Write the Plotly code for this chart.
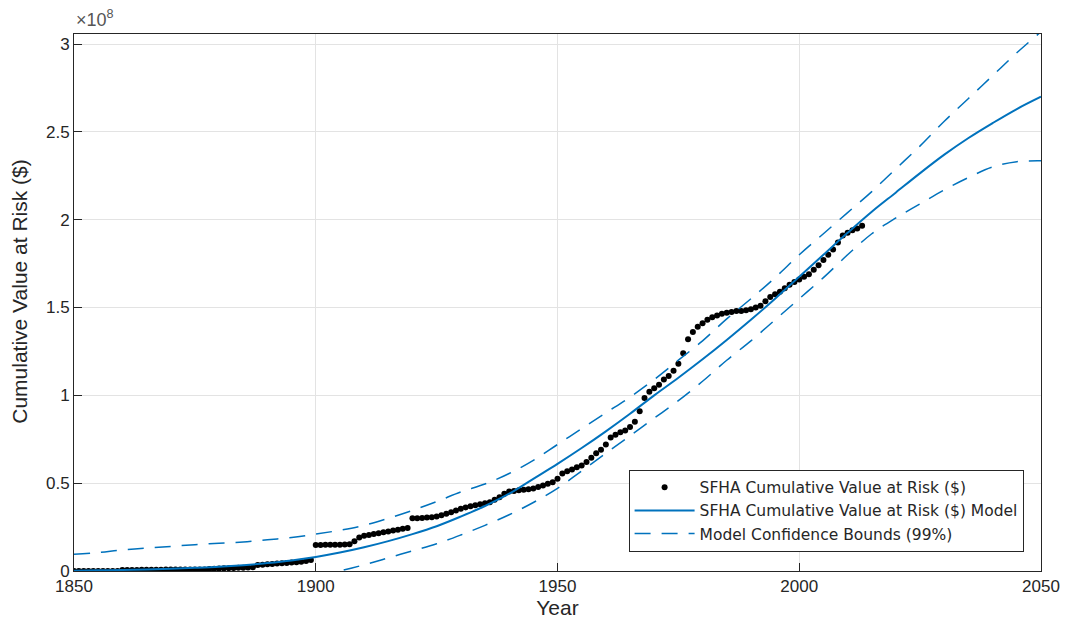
import plotly.graph_objects as go

# Units: 1e8 dollars
SCALE = 1e8

# Observed cumulative value at risk, one value per year from 1850
obs_start_year = 1850
obs_values = [
    0.000, 0.000, 0.000, 0.000, 0.000, 0.000, 0.000, 0.000, 0.000, 0.000,
    0.006, 0.006, 0.006, 0.006, 0.007, 0.007, 0.007, 0.007, 0.007, 0.008,
    0.008, 0.008, 0.008, 0.008, 0.009, 0.009, 0.009, 0.009, 0.012, 0.013,
    0.014, 0.015, 0.016, 0.017, 0.018, 0.019, 0.020, 0.021, 0.034, 0.036,
    0.038, 0.040, 0.042, 0.044, 0.046, 0.048, 0.050, 0.053, 0.057, 0.062,
    0.148, 0.148, 0.149, 0.149, 0.150, 0.150, 0.151, 0.152, 0.170, 0.190,
    0.200, 0.205, 0.210, 0.215, 0.220, 0.225, 0.230, 0.235, 0.240, 0.245,
    0.300, 0.301, 0.302, 0.304, 0.306, 0.310, 0.318, 0.326, 0.335, 0.345,
    0.355, 0.362, 0.368, 0.374, 0.380, 0.386, 0.392, 0.405, 0.420, 0.440,
    0.452, 0.456, 0.460, 0.463, 0.466, 0.470, 0.478, 0.487, 0.496, 0.505,
    0.525, 0.555, 0.568, 0.578, 0.590, 0.600, 0.620, 0.645, 0.670, 0.690,
    0.720, 0.760, 0.775, 0.790, 0.800, 0.820, 0.850, 0.910, 0.985, 1.020,
    1.040, 1.060, 1.090, 1.110, 1.140, 1.180, 1.240, 1.320, 1.360, 1.390,
    1.410, 1.430, 1.445, 1.455, 1.465, 1.470, 1.475, 1.480, 1.480, 1.485,
    1.490, 1.500, 1.510, 1.535, 1.560, 1.575, 1.590, 1.610, 1.630, 1.645,
    1.660, 1.675, 1.690, 1.715, 1.740, 1.770, 1.800, 1.830, 1.870, 1.910,
    1.925, 1.940, 1.950, 1.965,
]
obs_years = list(range(obs_start_year, obs_start_year + len(obs_values)))

# Fitted model and its 99% confidence bounds, every 5 years
model_years = list(range(1850, 2051, 5))
model_values = [
    0.002, 0.004, 0.006, 0.009, 0.013, 0.018, 0.024, 0.033, 0.045, 0.060,
    0.080, 0.105, 0.135, 0.170, 0.210, 0.255, 0.310, 0.370, 0.440, 0.525,
    0.610, 0.700, 0.795, 0.895, 1.000, 1.100, 1.205, 1.315, 1.430, 1.550,
    1.675, 1.800, 1.925, 2.045, 2.155, 2.265, 2.370, 2.465, 2.550, 2.630,
    2.700,
]
upper_values = [
    0.095, 0.105, 0.120, 0.130, 0.140, 0.150, 0.158, 0.165, 0.178, 0.190,
    0.210, 0.232, 0.260, 0.300, 0.345, 0.395, 0.450, 0.495, 0.555, 0.630,
    0.720, 0.810, 0.900, 0.990, 1.090, 1.200, 1.310, 1.435, 1.550, 1.670,
    1.800, 1.920, 2.040, 2.160, 2.290, 2.420, 2.560, 2.690, 2.820, 2.950,
    3.070,
]
lower_years = list(range(1895, 2051, 5))
lower_values = [
    -0.075, -0.040, 0.000, 0.035, 0.075, 0.115, 0.155, 0.205, 0.260, 0.320,
    0.390, 0.470, 0.570, 0.670, 0.770, 0.870, 0.970, 1.080, 1.200, 1.310,
    1.430, 1.550, 1.670, 1.800, 1.920, 2.010, 2.090, 2.170, 2.240, 2.300,
    2.330, 2.335,
]

x_ticks = [1850, 1900, 1950, 2000, 2050]
y_tick_values = [0, 0.5, 1, 1.5, 2, 2.5, 3]
y_tick_labels = ["0", "0.5", "1", "1.5", "2", "2.5", "3"]

BLUE = "#0072BD"
AXIS = "#262626"
FONT = "Liberation Sans, Arial, sans-serif"
LEGEND_FONT = "DejaVu Sans, Liberation Sans, sans-serif"

fig = go.Figure()

fig.add_trace(go.Scatter(
    x=obs_years, y=[v * SCALE for v in obs_values],
    mode="markers", marker=dict(color="black", size=6),
    name="SFHA Cumulative Value at Risk ($)",
))
fig.add_trace(go.Scatter(
    x=model_years, y=[v * SCALE for v in model_values],
    mode="lines", line=dict(color=BLUE, width=2, shape="spline"),
    name="SFHA Cumulative Value at Risk ($) Model",
))
fig.add_trace(go.Scatter(
    x=model_years, y=[v * SCALE for v in upper_values],
    mode="lines", line=dict(color=BLUE, width=1.5, dash="16px,11px", shape="spline"),
    name="Model Confidence Bounds (99%)",
))
fig.add_trace(go.Scatter(
    x=lower_years, y=[v * SCALE for v in lower_values],
    mode="lines", line=dict(color=BLUE, width=1.5, dash="16px,11px", shape="spline"),
    showlegend=False,
))

axis_common = dict(
    showline=True, mirror=True, linecolor=AXIS, linewidth=1,
    ticks="inside", ticklen=8, tickcolor=AXIS, tickwidth=1,
    showgrid=True, gridcolor="#e3e3e3", gridwidth=1, zeroline=False,
    tickfont=dict(family=FONT, size=17, color=AXIS),
    automargin=False,
)

fig.update_layout(
    width=1066, height=625,
    margin=dict(l=74, r=25, t=34, b=54),
    paper_bgcolor="white", plot_bgcolor="white",
    font=dict(family=FONT, color=AXIS),
    xaxis=dict(
        range=[1850, 2050], tickvals=x_ticks,
        title=dict(text="Year", font=dict(family=FONT, size=21, color=AXIS), standoff=3),
        **axis_common,
    ),
    yaxis=dict(
        range=[0, 3.057 * SCALE],
        tickvals=[v * SCALE for v in y_tick_values], ticktext=y_tick_labels,
        **axis_common,
    ),
    legend=dict(
        x=0.982, y=0.036, xanchor="right", yanchor="bottom",
        bgcolor="white", bordercolor=AXIS, borderwidth=1,
        font=dict(family=LEGEND_FONT, size=15.5, color=AXIS),
        tracegroupgap=0, itemwidth=60,
    ),
    showlegend=True,
)

# Y-axis title placed as rotated text beside the axis
fig.add_annotation(
    xref="paper", yref="paper", x=0, y=0.52, xanchor="center", yanchor="middle",
    xshift=-54, text="Cumulative Value at Risk ($)", textangle=-90, showarrow=False,
    font=dict(family=FONT, size=21, color=AXIS),
)

# Exponent for the y-axis tick labels
fig.add_annotation(
    xref="paper", yref="paper", x=0, y=1, xanchor="left", yanchor="bottom",
    text="×10<sup>8</sup>", showarrow=False, yshift=2,
    font=dict(family=FONT, size=18, color="#555555"),
)

fig.write_html("out.html")
